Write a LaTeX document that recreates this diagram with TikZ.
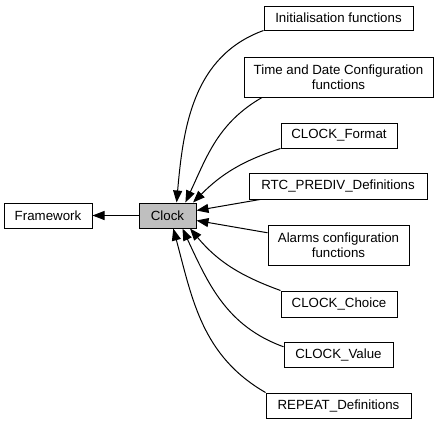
\documentclass[tikz,border=0pt]{standalone}
\usepackage{fontspec}
\setmainfont{Liberation Sans}
\usepackage{xcolor}
\definecolor{clkgray}{HTML}{BFBFBF}
\usepackage{tikz}
\usetikzlibrary{arrows.meta}
\tikzset{
  clkbox/.style={draw,line width=1pt,fill=white,inner sep=0pt,align=center,font=\fontsize{13.3}{15.5}\selectfont,minimum height=25pt},
  clkself/.style={clkbox,fill=clkgray},
  clkflow/.style={-{Triangle[length=12pt,width=9pt]},line width=1pt},
}

\begin{document}
\begin{tikzpicture}[x=1pt,y=-1pt]
\useasboundingbox (0,0) rectangle (439,424);
\node[clkbox,minimum width=88pt] (frame) at (48,215.5) {Framework};
\node[clkself,minimum width=57pt] (clock) at (167.5,215.5) {Clock};
\node[clkbox,minimum width=149pt,minimum height=24pt] (init) at (338.5,18) {Initialisation functions};
\node[clkbox,minimum width=189pt,minimum height=40pt] (tdc) at (338.5,77) {Time and Date Configuration\\functions};
\node[clkbox,minimum width=116pt] (fmt) at (339,135.5) {CLOCK\_Format};
\node[clkbox,minimum width=178pt,minimum height=26pt] (rtc) at (338,186) {RTC\_PREDIV\_Definitions};
\node[clkbox,minimum width=141pt,minimum height=40pt] (alarm) at (338.5,245) {Alarms configuration\\functions};
\node[clkbox,minimum width=116pt,minimum height=26pt] (choice) at (339,304) {CLOCK\_Choice};
\node[clkbox,minimum width=109pt] (value) at (338.5,354.5) {CLOCK\_Value};
\node[clkbox,minimum width=145pt] (repeat) at (338.5,405.5) {REPEAT\_Definitions};
\draw[clkflow] (clock) -- (frame);
\draw[clkflow] (init.south west) to[out=200,in=85] (clock.55);
\draw[clkflow] (tdc.195) to[out=210,in=65] (clock.36);
\draw[clkflow] (fmt.south west) to[out=198,in=45] (clock.27);
\draw[clkflow] (rtc) -- (clock);\draw[clkflow] (alarm) -- (clock);
\draw[clkflow] (choice.north west) to[out=160,in=-50] (clock.-30);
\draw[clkflow] (value.172) to[out=160,in=-65] (clock.-41);
\draw[clkflow] (repeat.north west) to[out=150,in=-75] (clock.-66);
\end{tikzpicture}
\end{document}
